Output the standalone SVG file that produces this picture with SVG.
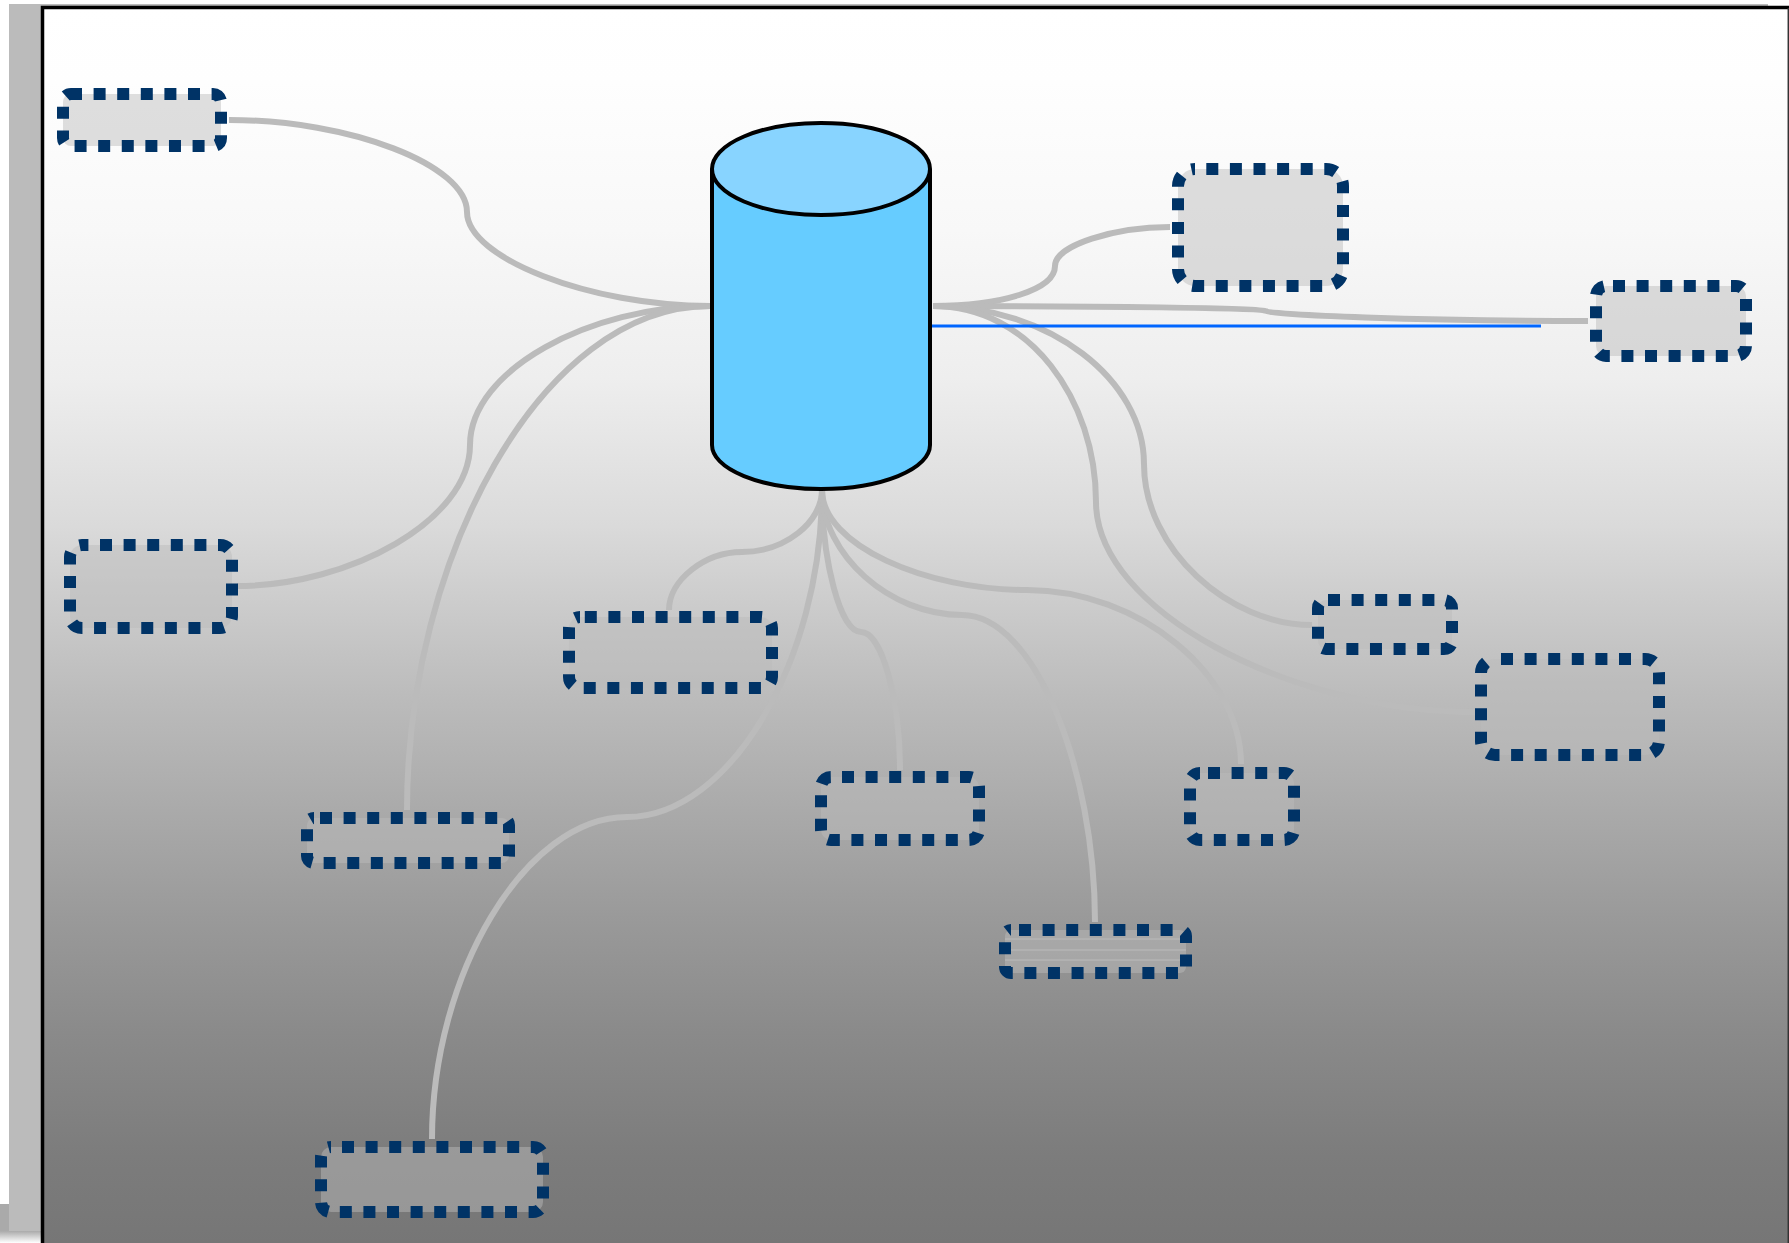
<svg xmlns="http://www.w3.org/2000/svg" width="1789" height="1243" viewBox="0 0 1789 1243">
<defs>
<linearGradient id="bg" x1="0" y1="0" x2="0" y2="1"><stop offset="0" stop-color="#fff"/><stop offset=".06" stop-color="#fefefe"/><stop offset=".18" stop-color="#f8f8f8"/><stop offset=".3" stop-color="#eee"/><stop offset=".42" stop-color="#dadada"/><stop offset=".5" stop-color="#c8c8c8"/><stop offset=".56" stop-color="#bbb"/><stop offset=".65" stop-color="#aaa"/><stop offset=".74" stop-color="#999"/><stop offset=".83" stop-color="#8a8a8a"/><stop offset=".93" stop-color="#7c7c7c"/><stop offset="1" stop-color="#767676"/></linearGradient>
<linearGradient id="pale" x1="0" y1="0" x2="0" y2="1"><stop offset="0" stop-color="#aaa"/><stop offset="1" stop-color="#fff"/></linearGradient>
</defs>
<style>
.n{fill:#bbb;fill-opacity:.47}
.b{fill:none;stroke:#003366;stroke-width:12px;stroke-dasharray:12 11.6}
.e{fill:none;stroke:#bbb;stroke-width:6}
.c{fill:#66ccff;stroke:#000;stroke-width:4}
</style>
<rect width="1789" height="1243" fill="#fff"/>
<rect x="0" y="1204" width="9" height="27" fill="#aaa"/>
<rect x="0" y="1231" width="42" height="12" fill="url(#pale)"/>
<rect x="9" y="4" width="1759" height="4" fill="#bbb"/>
<rect x="9" y="4" width="33" height="1227" fill="#bbb"/>
<rect x="42" y="7" width="1747" height="1236" fill="url(#bg)"/>
<path d="M42.5 1243V7.5H1789" fill="none" stroke="#000" stroke-width="3.5"/>
<path d="M1788.3 8V1243" fill="none" stroke="#333" stroke-width="1.5"/>
<g id="connectors">
<path class="e" d="M229 120C350 120 467 165 467 212C467 258 590 306 710 306"/>
<path class="e" d="M237 586C350 586 470 520 470 445C470 370 590 306 710 306"/>
<path class="e" d="M407 810C407 560 540 306 710 306"/>
<path class="e" d="M822 490C822 522 785 552 742 552C705 552 669 580 669 610"/>
<path class="e" d="M822 490C822 660 730 817 627 817C525 817 432 975 432 1139"/>
<path class="e" d="M822 490C822 560 840 632 861 632C882 632 900 700 900 770"/>
<path class="e" d="M822 490C822 555 890 615 962 615C1035 615 1095 770 1095 922"/>
<path class="e" d="M822 490C822 545 925 590 1027 590C1140 590 1241 675 1241 764"/>
<path class="e" d="M933 306C1000 306 1055 290 1055 266C1055 245 1115 227 1170 227"/>
<path class="e" d="M933 306C1100 306 1262 308 1266 311C1270 315 1420 321 1588 321"/>
<path class="e" d="M933 306C1050 306 1144 380 1144 464C1144 550 1230 625 1312 625"/>
<path class="e" d="M933 306C1030 306 1096 400 1096 502C1096 610 1290 712 1475 712"/>
<path d="M930 326H1541" fill="none" stroke="#0066ff" stroke-width="3"/>
</g>
<g id="cylinder">
<path class="c" d="M712 169V445A109 44 0 0 0 930 445V169"/>
<ellipse cx="821" cy="169" rx="109" ry="46" fill="#88d4ff" stroke="#000" stroke-width="4"/>
</g>
<g id="n1"><rect class="n" x="63" y="94" width="158" height="52" rx="8"/><rect class="b" x="63" y="94" width="158" height="52" rx="8" stroke-dashoffset="1"/></g>
<g id="n2"><rect class="n" x="1178" y="169" width="165" height="117" rx="17"/><rect class="b" x="1178" y="169" width="165" height="117" rx="17" stroke-dashoffset="-11.3"/></g>
<g id="n3"><rect class="n" x="1596" y="286" width="150" height="70" rx="10"/><rect class="b" x="1596" y="286" width="150" height="70" rx="10" stroke-dashoffset="-7"/></g>
<g id="n4"><rect class="n" x="70" y="545" width="162" height="83" rx="12"/><rect class="b" x="70" y="545" width="162" height="83" rx="12" stroke-dashoffset="-18"/></g>
<g id="n5"><rect class="n" x="569" y="617" width="203" height="71" rx="11"/><rect class="b" x="569" y="617" width="203" height="71" rx="11" stroke-dashoffset="-4.8"/></g>
<g id="n6"><rect class="n" x="1318" y="600" width="134" height="49" rx="8"/><rect class="b" x="1318" y="600" width="134" height="49" rx="8" stroke-dashoffset="-2"/></g>
<g id="n7"><rect class="n" x="1481" y="659" width="178" height="96" rx="14"/><rect class="b" x="1481" y="659" width="178" height="96" rx="14" stroke-dashoffset="-6"/></g>
<g id="n8"><rect class="n" x="307" y="818" width="202" height="45" rx="7"/><rect class="b" x="307" y="818" width="202" height="45" rx="7" stroke-dashoffset="-6"/></g>
<g id="n9"><rect class="n" x="821" y="777" width="158" height="63" rx="10"/><rect class="b" x="821" y="777" width="158" height="63" rx="10" stroke-dashoffset="-11"/></g>
<g id="n10"><rect class="n" x="1190" y="773" width="104" height="67" rx="10"/><rect class="b" x="1190" y="773" width="104" height="67" rx="10" stroke-dashoffset="-8"/></g>
<g id="n11"><rect class="n" x="1005" y="930" width="181" height="43" rx="6"/><path d="M1005 939H1186M1005 950H1186M1005 960H1186" fill="none" stroke="#bbb" stroke-width="1"/><rect class="b" x="1005" y="930" width="181" height="43" rx="6" stroke-dashoffset="-8"/></g>
<g id="n12"><rect class="n" x="321" y="1147" width="222" height="65" rx="10"/><rect class="b" x="321" y="1147" width="222" height="65" rx="10" stroke-dashoffset="-11"/></g>
</svg>
